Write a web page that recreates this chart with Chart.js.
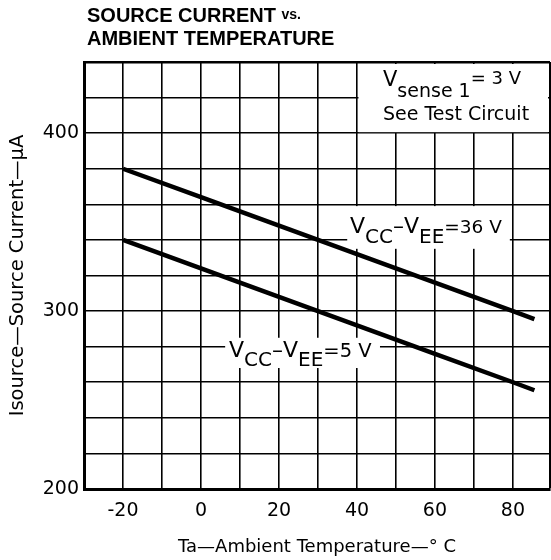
<!DOCTYPE html>
<html>
<head>
<meta charset="utf-8">
<script src="https://cdn.jsdelivr.net/npm/chart.js"></script>
<style>
  html, body { margin: 0; padding: 0; background: #fff; overflow: hidden; }
</style>
</head>
<body>
<canvas id="chart" width="551" height="560"></canvas>
<script>
// values
const temps = [-20, 0, 20, 40, 60, 80, 85.5];
const current36 = [380, 364, 348, 332, 316, 300, 295.5];
const current5 = [340, 324, 308, 292, 276, 260, 255.5];
const xTickLabels = [-20, 0, 20, 40, 60, 80];
const yTickLabels = [200, 300, 400];

const FONT = '"DejaVu Sans", "Liberation Sans", sans-serif';
const TITLE_FONT = '"Liberation Sans", Arial, sans-serif';

function textRuns(ctx, x, y, parts) {
  for (const [t, size, dy] of parts) {
    ctx.font = size + 'px ' + FONT;
    ctx.fillText(t, x, y + dy);
    x += ctx.measureText(t).width;
  }
}

function whiteBox(ctx, x0, y0, x1, y1) {
  ctx.fillRect(x0, y0, x1 - x0, y1 - y0);
}

const notes = {
  id: 'notes',
  beforeDatasetsDraw(chart) {
    const { ctx, scales: { x, y } } = chart;
    ctx.save();
    ctx.fillStyle = '#fff';
    // test conditions box, top right
    whiteBox(ctx, x.getPixelForValue(40) + 1.5, y.getPixelForValue(440) + 2,
             x.getPixelForValue(89.5) - 2, y.getPixelForValue(400) - 1);
    // curve labels
    whiteBox(ctx, x.getPixelForValue(37.5), y.getPixelForValue(359),
             x.getPixelForValue(79.2), y.getPixelForValue(335));
    whiteBox(ctx, x.getPixelForValue(6.2), y.getPixelForValue(285),
             x.getPixelForValue(45.9), y.getPixelForValue(268));
    ctx.restore();
  },
  afterDraw(chart) {
    const { ctx } = chart;
    ctx.save();
    ctx.fillStyle = '#000';
    ctx.textBaseline = 'alphabetic';
    ctx.textAlign = 'left';
    // chart title
    ctx.font = 'bold 20px ' + TITLE_FONT;
    ctx.fillText('SOURCE CURRENT ', 87, 22);
    let w = ctx.measureText('SOURCE CURRENT ').width;
    ctx.font = 'bold 14px ' + TITLE_FONT;
    ctx.fillText('vs.', 87 + w, 19);
    ctx.font = 'bold 20px ' + TITLE_FONT;
    ctx.fillText('AMBIENT TEMPERATURE', 87, 45);

    textRuns(ctx, 383, 86, [['V', 21, 0], ['sense 1', 19, 11], ['= 3 V', 18, -2]]);
    ctx.font = '19px ' + FONT;
    ctx.fillText('See Test Circuit', 383, 120);

    textRuns(ctx, 350, 233, [['V', 22, 0], ['CC', 20, 10], ['\u2013V', 22, 0], ['EE', 20, 10], ['=36 V', 18.5, 0]]);
    textRuns(ctx, 229, 357, [['V', 22, 0], ['CC', 20, 9], ['\u2013V', 22, 0], ['EE', 20, 9], ['=5 V', 19.5, 0]]);
    ctx.restore();
  }
};

const edge = (v, hi) => v === hi;

new Chart(document.getElementById('chart').getContext('2d'), {
  type: 'line',
  data: {
    datasets: [
      {
        label: 'VCC-VEE=36 V',
        data: temps.map((t, i) => ({ x: t, y: current36[i] })),
        borderColor: '#000',
        borderWidth: 4.5,
        pointRadius: 0,
        tension: 0
      },
      {
        label: 'VCC-VEE=5 V',
        data: temps.map((t, i) => ({ x: t, y: current5[i] })),
        borderColor: '#000',
        borderWidth: 4.5,
        pointRadius: 0,
        tension: 0
      }
    ]
  },
  options: {
    responsive: false,
    animation: false,
    layout: { padding: { top: 62, right: 1, left: 0, bottom: 0 } },
    plugins: {
      legend: { display: false },
      title: { display: false },
      tooltip: { enabled: false }
    },
    scales: {
      x: {
        type: 'linear',
        min: -30,
        max: 89.5,
        afterBuildTicks: (scale) => {
          const t = [];
          for (let v = -30; v <= 80; v += 10) t.push({ value: v });
          t.push({ value: 89.5 });
          scale.ticks = t;
        },
        afterFit: (scale) => {
          scale.height = 71;
          scale.paddingLeft = 0;
          scale.paddingRight = 0;
        },
        grid: {
          color: '#000',
          lineWidth: (c) => edge(c.tick && c.tick.value, 89.5) ? 2.5 : 1.6,
          drawTicks: false
        },
        border: { display: true, color: '#000', width: 3 },
        ticks: {
          autoSkip: false,
          maxRotation: 0,
          padding: 11,
          color: '#000',
          font: { family: FONT, size: 19 },
          callback: (v) => xTickLabels.includes(v) ? String(v) : ''
        },
        title: {
          display: true,
          text: 'Ta\u2014Ambient Temperature\u2014\u00b0 C',
          color: '#000',
          font: { family: FONT, size: 18 },
          padding: { top: 0, bottom: 2 }
        }
      },
      y: {
        min: 200,
        max: 440,
        afterBuildTicks: (scale) => {
          const t = [];
          for (let v = 200; v <= 440; v += 20) t.push({ value: v });
          scale.ticks = t;
        },
        afterFit: (scale) => {
          scale.width = 84;
          scale.paddingTop = 0;
          scale.paddingBottom = 0;
        },
        grid: {
          color: '#000',
          lineWidth: (c) => edge(c.tick && c.tick.value, 440) ? 2.5 : 1.6,
          drawTicks: false
        },
        border: { display: true, color: '#000', width: 3 },
        ticks: {
          autoSkip: false,
          padding: 5,
          color: '#000',
          font: { family: FONT, size: 19 },
          callback: (v) => yTickLabels.includes(v) ? String(v) : ''
        },
        title: {
          display: true,
          text: 'Isource\u2014Source Current\u2014\u03bcA',
          color: '#000',
          font: { family: FONT, size: 19.5 },
          padding: { top: 6, bottom: 0 }
        }
      }
    }
  },
  plugins: [notes]
});
</script>
</body>
</html>
